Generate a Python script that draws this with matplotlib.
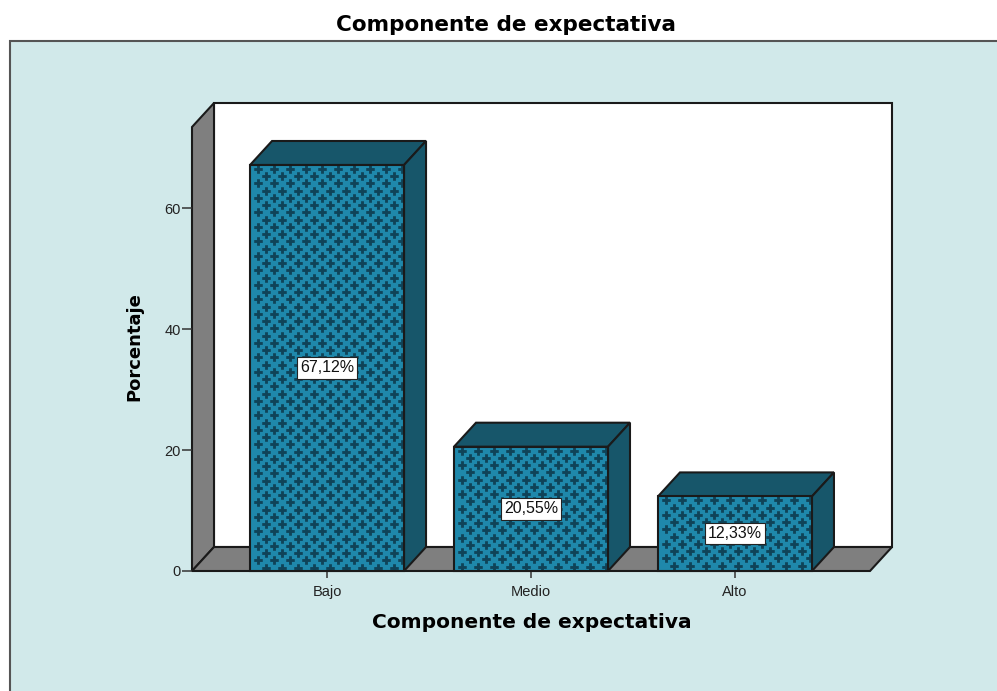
import matplotlib
matplotlib.use("Agg")
import matplotlib.pyplot as plt
from matplotlib.patches import Polygon, Rectangle
import numpy as np

plt.rcParams['font.family'] = ['Liberation Sans', 'DejaVu Sans']

categories = ['Bajo', 'Medio', 'Alto']
values = [67.12, 20.55, 12.33]
value_labels = ['67,12%', '20,55%', '12,33%']
y_ticks = [0, 20, 40, 60]

W, H = 997, 691
PANEL = '#D1E9EA'
GRAY = '#7F7F7F'
FRONT = '#1F88AB'
DARK = '#17566A'
PLUS = '#0F4358'
EDGE = '#1A1A1A'

fig = plt.figure(figsize=(W / 100, H / 100), dpi=100, facecolor='white')

# background panel, runs off the right and bottom of the picture
fig.add_artist(Rectangle((10 / W, -0.1), 1, 1.1 - 41 / H, transform=fig.transFigure,
                         facecolor=PANEL, edgecolor='#555555', linewidth=1.5, zorder=-1))

# axes box is the front plane of the fake 3d chart
ax = fig.add_axes([192 / W, 1 - 571 / H, 678 / W, 444 / H])
ax.patch.set_visible(False)
ax.set_xlim(-0.662, 2.662)
ax.set_ylim(0, 73.4)

# depth of the 3d effect, in data units
dx = 22 / 204
dy = 24 / 6.05
x0, x1 = ax.get_xlim()
y0, y1 = ax.get_ylim()
bar_w = 0.755


def poly(points, color, z=2, lw=1.5):
    ax.add_patch(Polygon(points, closed=True, facecolor=color, edgecolor=EDGE,
                         linewidth=lw, clip_on=False, zorder=z, joinstyle='miter'))


# walls and floor
poly([(x0 + dx, y0 + dy), (x1 + dx, y0 + dy), (x1 + dx, y1 + dy), (x0 + dx, y1 + dy)], 'white', 1)
poly([(x0, y0), (x0 + dx, y0 + dy), (x0 + dx, y1 + dy), (x0, y1)], GRAY, 1)
poly([(x0, y0), (x1, y0), (x1 + dx, y0 + dy), (x0 + dx, y0 + dy)], GRAY, 1)

# bars
for i, v in enumerate(values):
    l, r = i - bar_w / 2, i + bar_w / 2
    poly([(l, v), (r, v), (r + dx, v + dy), (l + dx, v + dy)], DARK, 3)
    poly([(r, 0), (r + dx, dy), (r + dx, v + dy), (r, v)], DARK, 3)
    front = Rectangle((l, 0), bar_w, v, facecolor=FRONT, edgecolor='none', zorder=3)
    ax.add_patch(front)
    # staggered plus pattern, 16 px across and 14.5 px between like rows
    px, py = 16 / 204, 7.25 / 6.05
    rows = np.arange(v - 0.55 * py, 0, -py)
    for k, yy in enumerate(rows):
        xs = np.arange(l + (0.5 if k % 2 == 0 else 1.0) * px, r, px)
        pts = ax.scatter(xs, np.full(len(xs), yy), marker='P', s=38, color=PLUS,
                         linewidths=0, zorder=4)
        pts.set_snap(False)
        pts.set_clip_path(front)
    ax.add_patch(Rectangle((l, 0), bar_w, v, facecolor='none', edgecolor=EDGE,
                           linewidth=1.5, zorder=5, clip_on=False))
    ax.text(i, v / 2, value_labels[i], ha='center', va='center', fontsize=11.5,
            color='#111111', zorder=6,
            bbox=dict(boxstyle='square,pad=0.2', facecolor='white', edgecolor='#222222', linewidth=0.8))

for s in ax.spines.values():
    s.set_visible(False)
ax.set_xticks(range(len(categories)))
ax.set_xticklabels(categories)
ax.set_yticks(y_ticks)
ax.tick_params(axis='x', length=5, width=1.1, color='#333333', labelsize=10.5,
               labelcolor='#222222', pad=5)
ax.tick_params(axis='y', length=7, width=1.1, color='#333333', labelsize=10.5,
               labelcolor='#222222', pad=1)

fig.text(506 / W, 1 - 25 / H, 'Componente de expectativa', ha='center', va='center',
         fontsize=15.5, fontweight='bold', color='black', family='DejaVu Sans')
fig.text(532 / W, 1 - 623 / H, 'Componente de expectativa', ha='center', va='center',
         fontsize=14.5, fontweight='bold', color='black', family='DejaVu Sans')
fig.text(134 / W, 1 - 347 / H, 'Porcentaje', ha='center', va='center', rotation=90,
         fontsize=13, fontweight='bold', color='black', family='DejaVu Sans')

fig.savefig('out.png', dpi=100)
